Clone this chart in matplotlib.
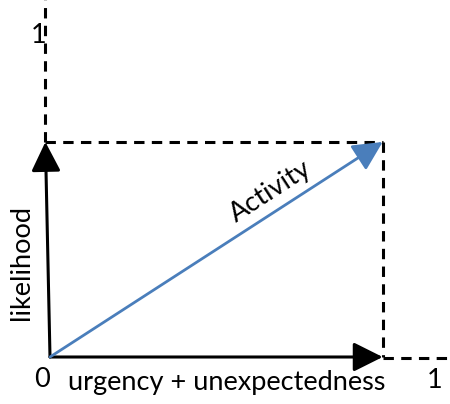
import matplotlib
matplotlib.use("Agg")
import matplotlib.pyplot as plt

# conceptual vector chart (unit axes)
axis_max = 1.0
activity_x = 0.865
activity_y = 0.668
x_label = "urgency + unexpectedness"
y_label = "likelihood"
vec_label = "Activity"
tick_labels = ["0", "1"]

plt.rcParams['font.family'] = ['Lato', 'DejaVu Sans']

fig = plt.figure(figsize=(4.5, 4.04), dpi=100)
ax = fig.add_axes([0, 0, 1, 1])
ax.set_xlim(-0.13, 1.04)
ax.set_ylim(-0.146, 1.109)
ax.axis('off')

top_x = -0.012  # vertical axis leans slightly in the source drawing

dash = dict(color='black', lw=2.2, linestyle=(0, (3.4, 2.4)))
# dashed continuation of axes
ax.plot([activity_x, 1.04], [-0.004, -0.004], **dash)
ax.plot([top_x, top_x], [activity_y, 1.109], **dash)
# dashed box
ax.plot([top_x, activity_x], [activity_y, activity_y], **dash)
ax.plot([activity_x, activity_x], [activity_y, 0], **dash)

arr = dict(arrowstyle='-|>,head_length=0.9,head_width=0.45', mutation_scale=20,
           shrinkA=0, shrinkB=0, lw=2.2, color='black')
ax.annotate('', xy=(activity_x, 0), xytext=(0, 0), arrowprops=arr)
ax.annotate('', xy=(top_x, activity_y), xytext=(0, 0), arrowprops=arr)
blue = dict(arr, color='#4a7ebb', lw=2.0)
ax.annotate('', xy=(activity_x, activity_y), xytext=(0, 0), arrowprops=blue)

fs = 19.5
ax.text(-0.02, -0.07, tick_labels[0], fontsize=fs, ha='center', va='center')
ax.text(axis_max, -0.072, tick_labels[1], fontsize=fs, ha='center', va='center')
ax.text(-0.03, axis_max, tick_labels[1], fontsize=fs, ha='center', va='center')
ax.text(0.46, -0.08, x_label, fontsize=fs, ha='center', va='center')
ax.text(-0.073, 0.295, y_label, fontsize=fs, ha='center', va='center', rotation=90)
ax.text(0.574, 0.515, vec_label, fontsize=fs, ha='center', va='center', rotation=33)

fig.savefig("out.png", dpi=100)
